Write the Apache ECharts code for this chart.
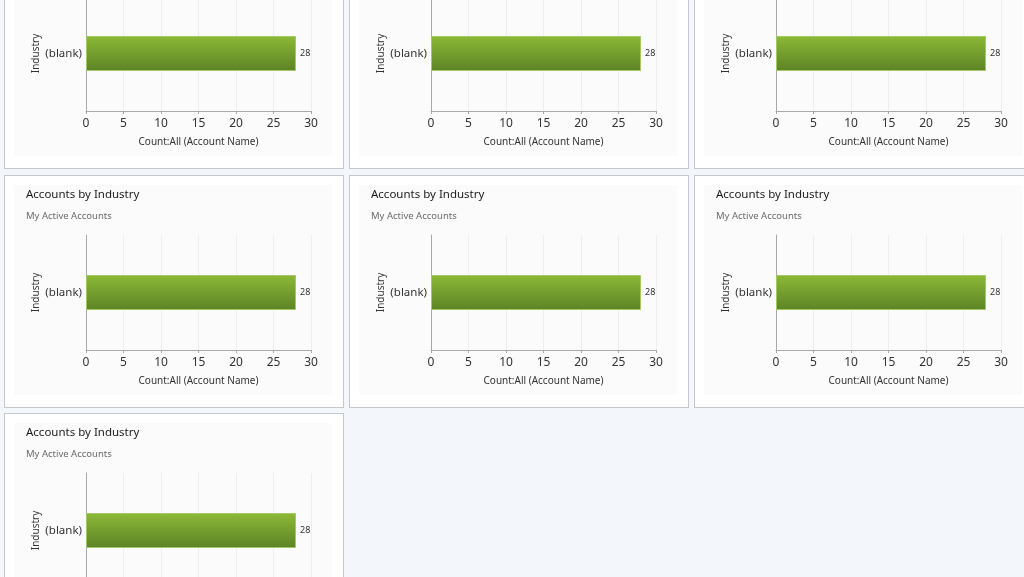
<!DOCTYPE html>
<html>
<head>
<meta charset="utf-8">
<script src="https://cdn.jsdelivr.net/npm/echarts@6/dist/echarts.min.js"></script>
<style>
body { margin: 0; background: #f3f6fa; width: 1024px; height: 577px; overflow: hidden; position: relative; font-family: 'Noto Sans', sans-serif; }
.panel { position: absolute; box-sizing: border-box; width: 340px; height: 233px; background: #fff; border: 1px solid #c4c8cd; }
.chart { position: absolute; left: 9px; top: 9px; width: 318px; height: 210px; }
</style>
</head>
<body>
<script>
// DATA
var categories = ['(blank)'];
var counts = [28];
var xTicks = [0, 5, 10, 15, 20, 25, 30];
var chartTitle = 'Accounts by Industry';
var viewName = 'My Active Accounts';
var xName = 'Count:All (Account Name)';
var yName = 'Industry';

// panel grid: 3 columns, top row scrolled partly out of view
var colLeft = [4, 349, 694];
var rowTop = [-64, 175, 413];
var panels = [[0, 0], [0, 1], [0, 2], [1, 0], [1, 1], [1, 2], [2, 0]];

function accountsOptions() {
	return {
		backgroundColor: '#fbfbfb',
		animation: false,
		title: {
			text: chartTitle,
			subtext: viewName,
			left: 7,
			top: -1,
			itemGap: 10,
			textStyle: { fontSize: 11.5, fontWeight: 'normal', color: '#1a1a1a', fontFamily: 'Noto Sans' },
			subtextStyle: { fontSize: 9.5, color: '#6a6a6a', fontFamily: 'Noto Sans' }
		},
		grid: { left: 72, right: 21, top: 50, bottom: 45 },
		xAxis: {
			type: 'value',
			min: xTicks[0],
			max: xTicks[xTicks.length - 1],
			interval: xTicks[1] - xTicks[0],
			name: xName,
			nameLocation: 'middle',
			nameGap: 26,
			nameMoveOverlap: false,
			nameTextStyle: { fontSize: 10, color: '#333', fontFamily: 'Noto Sans' },
			axisLine: { show: true, lineStyle: { color: '#a8a8a8' } },
			axisTick: { show: true, length: 3, lineStyle: { color: '#a8a8a8' } },
			axisLabel: { fontSize: 12, color: '#333', margin: 7, fontFamily: 'Noto Sans' },
			splitLine: { show: true, lineStyle: { color: '#eceef3' } }
		},
		yAxis: {
			type: 'category',
			data: categories,
			name: yName,
			nameLocation: 'middle',
			nameRotate: 90,
			nameGap: 45,
			nameMoveOverlap: false,
			nameTextStyle: { fontSize: 10, color: '#333', fontFamily: 'Noto Sans' },
			axisLine: { show: true, lineStyle: { color: '#a8a8a8' } },
			axisTick: { show: false },
			axisLabel: { fontSize: 11.5, color: '#333', margin: 4, fontFamily: 'Noto Sans' }
		},
		series: [{
			type: 'bar',
			data: counts,
			barWidth: 35,
			itemStyle: {
				color: new echarts.graphic.LinearGradient(0, 0, 0, 1, [
					{ offset: 0, color: '#8cb936' },
					{ offset: 1, color: '#5c8426' }
				]),
				borderColor: '#a4c865',
				borderWidth: 1
			},
			label: { show: true, position: 'right', distance: 4, fontSize: 9, color: '#333', fontFamily: 'Noto Sans' }
		}]
	};
}

function createChart(el) {
	var myChart = echarts.init(el);
	myChart.setOption(accountsOptions());
}

panels.forEach(function (p, i) {
	var panel = document.createElement('div');
	panel.className = 'panel';
	panel.style.left = colLeft[p[1]] + 'px';
	panel.style.top = rowTop[p[0]] + 'px';
	var chart = document.createElement('div');
	chart.className = 'chart';
	chart.id = 'chart' + i;
	panel.appendChild(chart);
	document.body.appendChild(panel);
	createChart(chart);
});
</script>
</body>
</html>
